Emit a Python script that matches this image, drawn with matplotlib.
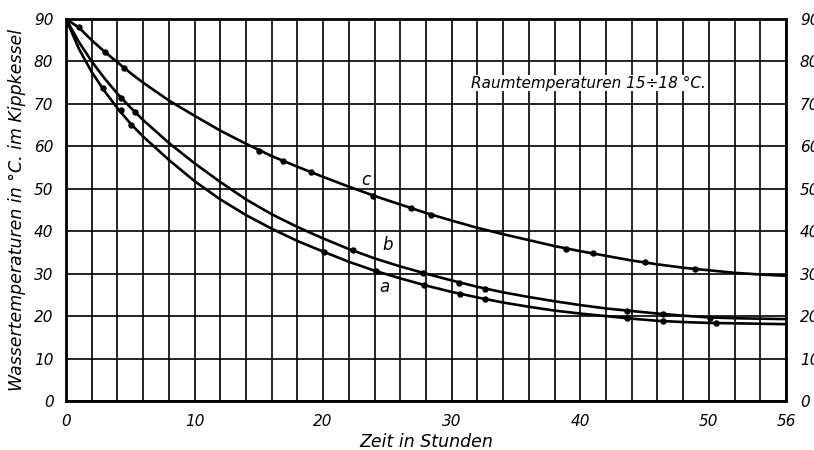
import matplotlib
matplotlib.use("Agg")
import matplotlib.pyplot as plt

# Abkühlkurven
zeit = [0, 1, 2, 3, 4, 5, 6, 8, 10, 12, 14, 16, 18, 20, 22, 24, 26, 28,
        30, 32, 34, 36, 38, 40, 42, 44, 46, 48, 50, 52, 54, 56]
kurve_a = [90, 83.0, 77.5, 73.0, 69.0, 65.4, 62.3, 56.8, 51.8, 47.5, 43.8, 40.6,
           37.7, 35.2, 32.8, 30.7, 28.9, 27.2, 25.7, 24.4, 23.2, 22.2, 21.3, 20.6,
           20.0, 19.4, 18.9, 18.6, 18.4, 18.3, 18.2, 18.1]
kurve_b = [90, 84.6, 80.0, 76.0, 72.4, 69.2, 66.2, 60.8, 56.0, 51.6, 47.5, 44.0,
           41.0, 38.3, 35.8, 33.6, 31.7, 30.0, 28.4, 26.9, 25.6, 24.5, 23.5, 22.6,
           21.8, 21.2, 20.6, 20.1, 19.7, 19.5, 19.4, 19.3]
kurve_c = [90, 88.0, 85.0, 82.3, 79.8, 77.3, 75.0, 70.8, 67.2, 63.7, 60.6, 57.7,
           55.2, 52.8, 50.5, 48.3, 46.3, 44.3, 42.5, 40.8, 39.3, 37.9, 36.5, 35.3,
           34.2, 33.1, 32.2, 31.4, 30.8, 30.2, 29.8, 29.5]

# Messpunkte
punkte_a_t = [2.9, 4.3, 5.06, 20.07, 24.1, 27.85, 30.65, 32.6, 43.6, 46.4, 50.55]
punkte_a_T = [73.8, 68.6, 65.1, 35.2, 30.6, 27.3, 25.2, 24.0, 19.5, 18.8, 18.3]
punkte_b_t = [4.3, 5.37, 22.35, 27.8, 30.6, 32.6, 43.6, 46.4, 50.1]
punkte_b_T = [71.3, 68.0, 35.6, 30.1, 27.9, 26.5, 21.3, 20.5, 19.6]
punkte_c_t = [1.0, 3.0, 4.5, 15.0, 16.9, 19.05, 23.9, 26.8, 28.4, 38.9, 41.0, 45.0, 48.9]
punkte_c_T = [88.0, 82.3, 78.5, 59.0, 56.5, 53.9, 48.3, 45.4, 43.8, 35.8, 34.8, 32.7, 31.1]

x_ticks = [0, 10, 20, 30, 40, 50, 56]
y_ticks = [0, 10, 20, 30, 40, 50, 60, 70, 80, 90]

plt.rcParams['font.family'] = ['DejaVu Sans']

fig = plt.figure(figsize=(8.14, 4.5), dpi=100)
ax = fig.add_axes([66 / 814, 1 - 401 / 450, 720 / 814, 382 / 450])

# Gitter alle 2 Stunden / 10 Grad
for t in range(0, 57, 2):
    ax.axvline(t, color='black', lw=1.2, zorder=1)
for T in range(0, 91, 10):
    ax.axhline(T, color='black', lw=1.2, zorder=1)

for werte in (kurve_a, kurve_b, kurve_c):
    ax.plot(zeit, werte, color='black', lw=1.9, zorder=3, solid_capstyle='round')

for pt, pT in ((punkte_a_t, punkte_a_T), (punkte_b_t, punkte_b_T), (punkte_c_t, punkte_c_T)):
    ax.plot(pt, pT, 'o', color='black', ms=3.6, zorder=4)

ax.set_xlim(0, 56)
ax.set_ylim(0, 90)
ax.set_xticks(x_ticks)
ax.set_yticks(y_ticks)
ax.tick_params(length=0, labelsize=11, pad=9)
for lab in ax.get_xticklabels() + ax.get_yticklabels():
    lab.set_style('italic')
for s in ax.spines.values():
    s.set_linewidth(2.0)
    s.set_zorder(5)

ax2 = ax.twinx()
ax2.set_ylim(0, 90)
ax2.set_yticks(y_ticks)
ax2.tick_params(length=0, labelsize=11, pad=10)
for lab in ax2.get_yticklabels():
    lab.set_style('italic')
for s in ax2.spines.values():
    s.set_visible(False)

ax.set_xlabel('Zeit in Stunden', fontsize=12.5, style='italic', labelpad=3)
ax.set_ylabel('Wassertemperaturen in °C. im Kippkessel', fontsize=12.5,
              style='italic', labelpad=6)

ax.text(31.5, 74.9, 'Raumtemperaturen 15÷18 °C.', fontsize=11, style='italic',
        va='center', ha='left', zorder=6,
        bbox=dict(facecolor='white', edgecolor='none', pad=0.5))
ax.text(23.3, 52.1, 'c', fontsize=12, style='italic', ha='center', va='center', zorder=6)
ax.text(25.0, 36.8, 'b', fontsize=12, style='italic', ha='center', va='center', zorder=6)
ax.text(24.8, 26.9, 'a', fontsize=12, style='italic', ha='center', va='center', zorder=6)

fig.savefig('out.png', dpi=100)
